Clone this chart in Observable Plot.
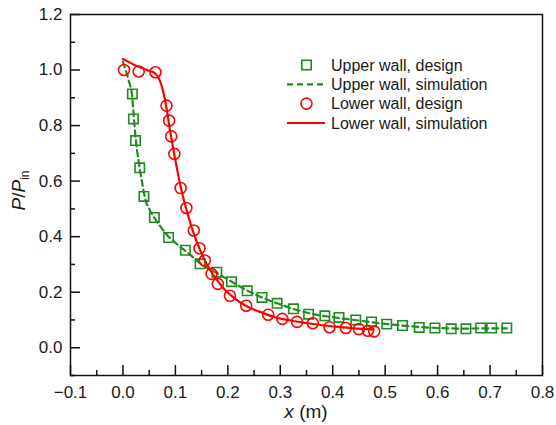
<!DOCTYPE html>
<html>
<head>
<meta charset="utf-8">
<script src="https://cdn.jsdelivr.net/npm/d3@7"></script>
<script src="https://cdn.jsdelivr.net/npm/@observablehq/plot@0.6"></script>
<style>
  body { margin: 0; background: #fff; }
  #wrap { width: 556px; height: 425px; }
</style>
</head>
<body>
<div id="wrap"></div>
<script>
// ---- Data ----
const upperDesignX = [0.018, 0.020, 0.024, 0.032, 0.040, 0.060, 0.087, 0.119, 0.147, 0.179, 0.207, 0.237, 0.265, 0.294, 0.325, 0.354, 0.385, 0.412, 0.444, 0.474, 0.503, 0.533, 0.565, 0.595, 0.626, 0.654, 0.682, 0.703, 0.732];
const upperDesignY = [0.914, 0.824, 0.746, 0.648, 0.545, 0.469, 0.397, 0.351, 0.302, 0.272, 0.238, 0.205, 0.181, 0.160, 0.140, 0.121, 0.115, 0.109, 0.100, 0.093, 0.085, 0.080, 0.073, 0.071, 0.068, 0.068, 0.071, 0.071, 0.071];

const upperSimX = [0.000, 0.006, 0.012, 0.017, 0.020, 0.023, 0.027, 0.032, 0.037, 0.042, 0.050, 0.060, 0.072, 0.087, 0.105, 0.125, 0.150, 0.180, 0.210, 0.240, 0.270, 0.300, 0.330, 0.360, 0.400, 0.450, 0.500, 0.550, 0.600, 0.650, 0.700, 0.732];
const upperSimY = [1.030, 0.995, 0.955, 0.915, 0.850, 0.780, 0.710, 0.645, 0.590, 0.540, 0.500, 0.468, 0.435, 0.400, 0.370, 0.340, 0.300, 0.268, 0.235, 0.203, 0.177, 0.156, 0.137, 0.122, 0.110, 0.098, 0.086, 0.077, 0.071, 0.069, 0.070, 0.070];

const lowerDesignX = [0.002, 0.030, 0.062, 0.083, 0.088, 0.092, 0.098, 0.110, 0.121, 0.135, 0.146, 0.156, 0.169, 0.181, 0.204, 0.235, 0.277, 0.304, 0.332, 0.362, 0.394, 0.425, 0.450, 0.467, 0.479];
const lowerDesignY = [1.000, 0.995, 0.992, 0.872, 0.818, 0.761, 0.698, 0.575, 0.503, 0.422, 0.358, 0.314, 0.266, 0.230, 0.187, 0.151, 0.119, 0.104, 0.093, 0.088, 0.074, 0.071, 0.067, 0.061, 0.059];

const lowerSimX = [0.000, 0.010, 0.020, 0.035, 0.050, 0.060, 0.068, 0.075, 0.080, 0.085, 0.090, 0.095, 0.100, 0.110, 0.120, 0.130, 0.140, 0.150, 0.160, 0.175, 0.190, 0.210, 0.235, 0.260, 0.290, 0.320, 0.350, 0.380, 0.410, 0.440, 0.478];
const lowerSimY = [1.040, 1.030, 1.020, 1.008, 0.997, 0.990, 0.972, 0.935, 0.895, 0.840, 0.780, 0.725, 0.675, 0.580, 0.505, 0.440, 0.385, 0.340, 0.300, 0.255, 0.218, 0.182, 0.150, 0.130, 0.110, 0.098, 0.089, 0.081, 0.075, 0.070, 0.066];

const xMajorTicks = [-0.1, 0.0, 0.1, 0.2, 0.3, 0.4, 0.5, 0.6, 0.7, 0.8];
const xMinorTicks = [-0.05, 0.05, 0.15, 0.25, 0.35, 0.45, 0.55, 0.65, 0.75];
const yMajorTicks = [0.0, 0.2, 0.4, 0.6, 0.8, 1.0, 1.2];
const yMinorTicks = [-0.1, 0.1, 0.3, 0.5, 0.7, 0.9, 1.1];

const seriesLabels = ["Upper wall, design", "Upper wall, simulation", "Lower wall, design", "Lower wall, simulation"];

// ---- Build tables ----
const zip = (xs, ys) => xs.map((x, i) => ({x, y: ys[i]}));
const upperDesign = zip(upperDesignX, upperDesignY);
const upperSim = zip(upperSimX, upperSimY);
const lowerDesign = zip(lowerDesignX, lowerDesignY);
const lowerSim = zip(lowerSimX, lowerSimY);

// ---- Layout ----
const W = 556, H = 425;
const mt = 14, mr = 14, mb = 50, ml = 70;
const plotW = W - ml - mr, plotH = H - mt - mb;
const green = "#1e8b1e", red = "#ff0000", ink = "#111";
const fontFamily = "'Liberation Sans', Arial, Helvetica, sans-serif";

const chart = Plot.plot({
  width: W, height: H,
  marginTop: mt, marginRight: mr, marginBottom: mb, marginLeft: ml,
  style: {fontFamily, fontSize: "17px", color: "#1a1a1a", background: "#fff"},
  x: {domain: [-0.1, 0.8]},
  y: {domain: [-0.1, 1.2]},
  marks: [
    Plot.axisX({ticks: xMajorTicks, tickSize: 0, tickPadding: 10, tickFormat: d3.format(".1f"), label: null}),
    Plot.axisY({ticks: yMajorTicks, tickSize: 0, tickPadding: 8, tickFormat: d3.format(".1f"), label: null}),
    Plot.tickX(xMajorTicks, {x: d => d, insetTop: plotH - 10, stroke: ink, strokeWidth: 1.5}),
    Plot.tickX(xMinorTicks, {x: d => d, insetTop: plotH - 5, stroke: ink, strokeWidth: 1.5}),
    Plot.tickY(yMajorTicks, {y: d => d, insetRight: plotW - 10, stroke: ink, strokeWidth: 1.5}),
    Plot.tickY(yMinorTicks, {y: d => d, insetRight: plotW - 5, stroke: ink, strokeWidth: 1.5}),
    Plot.dot(upperDesign, {x: "x", y: "y", symbol: "square", r: 5.3, stroke: green, strokeWidth: 1.6, fill: "none"}),
    Plot.line(upperSim, {x: "x", y: "y", stroke: green, strokeWidth: 2.2, strokeDasharray: "6,4", curve: "monotone-x"}),
    Plot.dot(lowerDesign, {x: "x", y: "y", symbol: "circle", r: 5.5, stroke: red, strokeWidth: 1.6, fill: "none"}),
    Plot.line(lowerSim, {x: "x", y: "y", stroke: red, strokeWidth: 2.2, curve: "monotone-x"}),
    Plot.frame({stroke: ink, strokeWidth: 1.5})
  ]
});

document.getElementById("wrap").appendChild(chart);

// ---- Axis titles ----
const svg = d3.select(chart);
const xl = svg.append("text")
  .attr("x", ml + plotW / 2).attr("y", 418)
  .attr("text-anchor", "middle")
  .style("font-family", fontFamily).style("font-size", "19px").attr("fill", "#1a1a1a");
xl.append("tspan").attr("font-style", "italic").text("x");
xl.append("tspan").text(" (m)");

const yl = svg.append("text")
  .attr("transform", `translate(25,${mt + plotH / 2 - 4}) rotate(-90)`)
  .attr("text-anchor", "middle")
  .style("font-family", fontFamily).style("font-size", "19px").attr("fill", "#1a1a1a");
yl.append("tspan").attr("font-style", "italic").text("P");
yl.append("tspan").text("/");
yl.append("tspan").attr("font-style", "italic").text("P");
yl.append("tspan").attr("dy", 4).style("font-size", "12px").text("in");

// ---- Legend ----
const lg = svg.append("g").style("font-family", fontFamily).style("font-size", "16px").attr("text-anchor", "start");
const rowY = [65, 84.3, 103.6, 123];
const symX = 306.5, lineX1 = 287, lineX2 = 325, textX = 331;
seriesLabels.forEach((label, i) => {
  const y = rowY[i];
  const g = lg.append("g");
  if (i === 0) {
    g.append("rect").attr("x", symX - 4.7).attr("y", y - 4.7).attr("width", 9.4).attr("height", 9.4)
      .attr("fill", "none").attr("stroke", green).attr("stroke-width", 1.6);
  } else if (i === 1) {
    g.append("line").attr("x1", lineX1).attr("x2", lineX2).attr("y1", y).attr("y2", y)
      .attr("stroke", green).attr("stroke-width", 2.2).attr("stroke-dasharray", "6,4");
  } else if (i === 2) {
    g.append("circle").attr("cx", symX).attr("cy", y).attr("r", 5.5)
      .attr("fill", "none").attr("stroke", red).attr("stroke-width", 1.6);
  } else {
    g.append("line").attr("x1", lineX1).attr("x2", lineX2).attr("y1", y).attr("y2", y)
      .attr("stroke", red).attr("stroke-width", 2.2);
  }
  g.append("text").attr("x", textX).attr("y", y).attr("dy", "0.36em").attr("text-anchor", "start")
    .attr("fill", "#1a1a1a").text(label);
});
</script>
</body>
</html>
